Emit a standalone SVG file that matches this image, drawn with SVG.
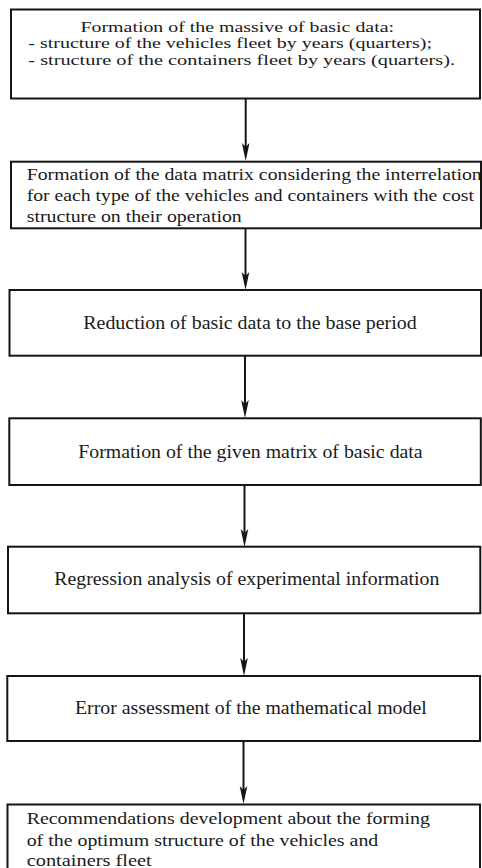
<svg xmlns="http://www.w3.org/2000/svg" width="482" height="868" viewBox="0 0 482 868">
<style>
.box{fill:#fff;stroke:#151515;stroke-width:2}
.t{font-family:"Liberation Serif","Times New Roman",serif;font-size:17px;fill:#1a1a1a}
.s{font-size:15px}
.l{font-size:18.5px}
.c{stroke:#151515;stroke-width:2;fill:none}
.ah{fill:#151515;stroke:none}
</style>
<rect width="482" height="868" fill="#fff"/>
<g id="connectors">
<line class="c" x1="245.7" y1="99" x2="245.7" y2="150"/>
<path class="ah" d="M245.7 161 L241.9 143 L245.7 147 L249.5 143 Z"/>
<line class="c" x1="245.5" y1="228.5" x2="245.5" y2="279"/>
<path class="ah" d="M245.5 290 L241.7 272 L245.5 276 L249.3 272 Z"/>
<line class="c" x1="245" y1="356" x2="245" y2="407"/>
<path class="ah" d="M245 418 L241.2 400 L245 404 L248.8 400 Z"/>
<line class="c" x1="244.5" y1="485" x2="244.5" y2="536"/>
<path class="ah" d="M244.5 547 L240.7 529 L244.5 533 L248.3 529 Z"/>
<line class="c" x1="244" y1="613.5" x2="244" y2="665"/>
<path class="ah" d="M244 676 L240.2 658 L244 662 L247.8 658 Z"/>
<line class="c" x1="243.5" y1="741" x2="243.5" y2="793"/>
<path class="ah" d="M243.5 804 L239.7 786 L243.5 790 L247.3 786 Z"/>
</g>
<g id="node1">
<rect class="box" x="11" y="9.5" width="469" height="89"/>
<text class="t s" x="80.5" y="31.5" textLength="313.5" lengthAdjust="spacingAndGlyphs">Formation of the massive of basic data:</text>
<text class="t s" x="28.3" y="48" textLength="403.7" lengthAdjust="spacingAndGlyphs">- structure of the vehicles fleet by years (quarters);</text>
<text class="t s" x="28.3" y="64.5" textLength="426.7" lengthAdjust="spacingAndGlyphs">- structure of the containers fleet by years (quarters).</text>
</g>
<g id="node2">
<rect class="box" x="11" y="161.7" width="470" height="66.6"/>
<text class="t" x="26.7" y="179.5" textLength="455" lengthAdjust="spacingAndGlyphs">Formation of the data matrix considering the interrelation</text>
<text class="t" x="26.7" y="201" textLength="447.3" lengthAdjust="spacingAndGlyphs">for each type of the vehicles and containers with the cost</text>
<text class="t" x="26.7" y="222" textLength="215" lengthAdjust="spacingAndGlyphs">structure on their operation</text>
</g>
<g id="node3">
<rect class="box" x="9.5" y="290" width="471.5" height="65.7"/>
<text class="t l" x="83.3" y="329" textLength="333.4" lengthAdjust="spacingAndGlyphs">Reduction of basic data to the base period</text>
</g>
<g id="node4">
<rect class="box" x="9.3" y="418.3" width="471.5" height="66.7"/>
<text class="t l" x="78.3" y="458.3" textLength="344.4" lengthAdjust="spacingAndGlyphs">Formation of the given matrix of basic data</text>
</g>
<g id="node5">
<rect class="box" x="8" y="546.7" width="472.3" height="66.6"/>
<text class="t l" x="54.3" y="585" textLength="385" lengthAdjust="spacingAndGlyphs">Regression analysis of experimental information</text>
</g>
<g id="node6">
<rect class="box" x="7.3" y="676" width="472.7" height="65"/>
<text class="t l" x="75" y="714.3" textLength="351.7" lengthAdjust="spacingAndGlyphs">Error assessment of the mathematical model</text>
</g>
<g id="node7">
<rect class="box" x="7.5" y="804.5" width="472.5" height="75"/>
<text class="t" x="26.7" y="824" textLength="403.3" lengthAdjust="spacingAndGlyphs">Recommendations development about the forming</text>
<text class="t" x="26.7" y="845.5" textLength="351.6" lengthAdjust="spacingAndGlyphs">of the optimum structure of the vehicles and</text>
<text class="t" x="26.7" y="865.5" textLength="125" lengthAdjust="spacingAndGlyphs">containers fleet</text>
</g>
</svg>
